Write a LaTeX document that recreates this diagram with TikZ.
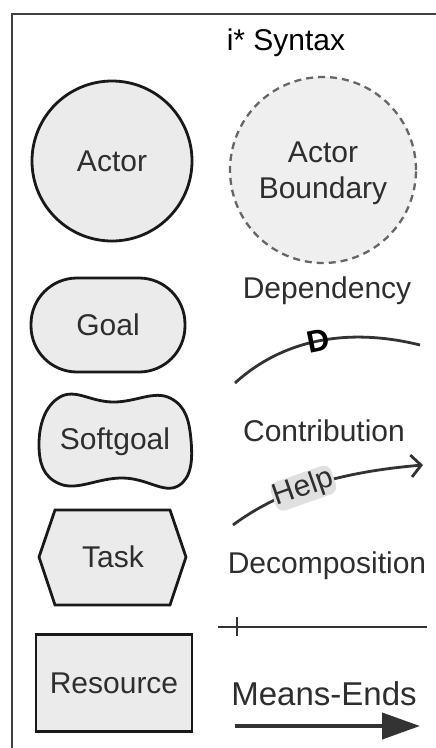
\documentclass[tikz,border=0pt]{standalone}
\usepackage{fontspec}
\setmainfont{Liberation Sans}
\usetikzlibrary{arrows.meta}
\definecolor{shapefill}{HTML}{EBEBEB}
\definecolor{txt}{HTML}{2E2E2E}
\begin{document}
\begin{tikzpicture}[x=1pt,y=-1pt,
  elem/.style={draw=black!90,line width=2.8pt,fill=shapefill},
  lbl/.style={text=txt,font=\fontsize{30}{36}\selectfont,inner sep=0pt},
  link/.style={draw=black!80,line width=2.8pt}]
\useasboundingbox (0,0) rectangle (436,748);
\fill[white] (0,0) rectangle (436,748);
% frame
\draw[line width=2.5pt,black!75] (12,760) -- (12,14) -- (450,14);
% title
\node[lbl,text=black] (title) at (286,43) {i* Syntax};
% actor
\node[elem,circle,minimum size=160pt,inner sep=0pt,lbl] (actor) at (112,161) {Actor};
% actor boundary
\node[circle,minimum size=186pt,inner sep=0pt,fill=shapefill!80!white,draw=black!60,
      line width=2.3pt,dash pattern=on 7pt off 5pt] (boundary) at (323,170) {};
\node[lbl,align=center] (boundarytext) at (323,173) {Actor\\Boundary};
% goal
\node[elem,rectangle,rounded corners=46pt,minimum width=154pt,minimum height=94pt,lbl] (goal) at (108,325) {Goal};
% softgoal
\draw[elem] plot[smooth cycle,tension=0.75] coordinates {(60,397) (113,402) (170,398) (191,440) (178,486) (123,478) (60,484) (39,444)};
\node[lbl] (softgoal) at (115,442) {Softgoal};
% task
\draw[elem] (55,510) -- (170,510) -- (186,557) -- (170,605) -- (55,605) -- (39,557) -- cycle;
\node[lbl] (task) at (113,557) {Task};
% resource
\node[elem,rectangle,minimum width=156pt,minimum height=97pt,lbl] (resource) at (114,683) {Resource};
% right labels
\node[lbl] (dependency) at (327,291) {Dependency};
\node[lbl] (contribution) at (324,431) {Contribution};
\node[lbl] (decomposition) at (327,566) {Decomposition};
\node[lbl,font=\fontsize{33}{36}\selectfont] (meansends) at (324,694) {Means-Ends};
% dependency link
\coordinate (d1) at (235,383);
\coordinate (d2) at (420,345);
\draw[link] (d1) .. controls (290,333) and (360,330) .. (d2)
  node[pos=0.46,sloped,text=black,font=\bfseries\fontsize{31}{31}\selectfont,inner sep=0pt] (dlabel) {D};
% contribution link
\coordinate (c1) at (233,525);
\coordinate (c2) at (423,465);
\draw[link,-{Straight Barb[length=10pt,width=22pt]}] (c1) .. controls (280,490) and (340,472) .. (c2)
  node[pos=0.44,sloped,fill=black!12,text=txt,font=\fontsize{30}{30}\selectfont,inner sep=1pt,rounded corners=8pt] (help) {Help};
% decomposition link
\coordinate (e1) at (218,627);
\coordinate (e2) at (427,627);
\draw[link] (e1) -- (e2);
\draw[link] (e1) ++(19,-10) coordinate (tick) -- ++(0,19);
% means-ends link
\coordinate (m1) at (235,726);
\coordinate (m2) at (420,726);
\draw[link,line width=4pt,-{Triangle[length=38pt,width=26pt]}] (m1) -- (m2);
\end{tikzpicture}
\end{document}
